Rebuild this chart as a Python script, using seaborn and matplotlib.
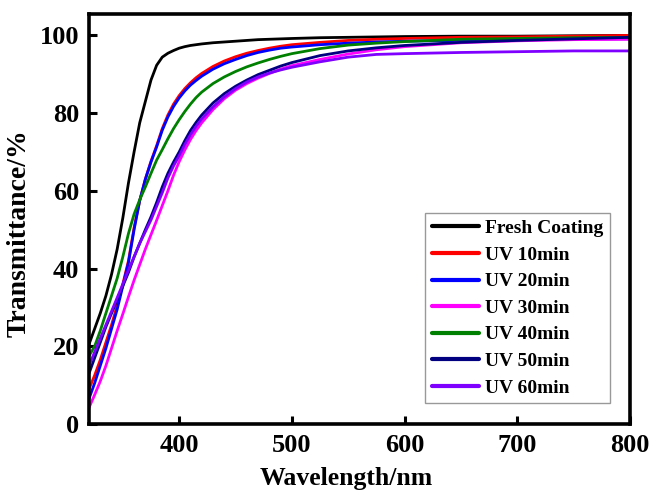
import numpy as np
import pandas as pd
import matplotlib
matplotlib.use("Agg")
import matplotlib.pyplot as plt
import seaborn as sns

wavelength = [320, 325, 330, 335, 340, 345, 350, 355, 360, 365, 370, 375, 380, 385, 390,
              395, 400, 405, 410, 415, 420, 430, 440, 450, 460, 470, 480, 490, 500,
              525, 550, 575, 600, 650, 700, 750, 800]

fresh = [20.5, 24.5, 28.5, 33, 38.5, 45, 53, 62, 70, 77.5, 83, 88.5, 92.3, 94.4, 95.4,
         96.1, 96.7, 97.1, 97.4, 97.6, 97.8, 98.1, 98.3, 98.5, 98.7, 98.9, 99.0, 99.1, 99.2,
         99.4, 99.5, 99.6, 99.7, 99.8, 99.8, 99.9, 100.0]
uv10 = [9, 12.5, 16.5, 21, 25.5, 30.5, 36, 42, 50.5, 57.5, 63, 67.6, 71.6, 76, 79.5,
        82.3, 84.5, 86.3, 87.8, 89.1, 90.2, 92, 93.4, 94.5, 95.4, 96.1, 96.7, 97.2, 97.6,
        98.2, 98.7, 99.0, 99.2, 99.5, 99.6, 99.8, 100]
uv20 = [6.5, 10.5, 15, 19.5, 24.5, 29.5, 35.5, 41.5, 50, 57.5, 63, 67.4, 71.3, 75.6, 79,
        81.7, 83.9, 85.7, 87.2, 88.4, 89.5, 91.3, 92.7, 93.8, 94.8, 95.6, 96.2, 96.7, 97.0,
        97.6, 98.0, 98.3, 98.5, 98.7, 98.9, 99.0, 99.1]
uv30 = [4.2, 7.5, 11, 15, 19.5, 24, 28.3, 32.7, 37, 41, 45, 48.7, 52.4, 56.2, 60,
        64, 67.5, 70.5, 73.2, 75.5, 77.5, 80.9, 83.7, 85.9, 87.6, 89.0, 90.2, 91.3, 92.2,
        93.8, 95.2, 96.3, 97.1, 98.1, 98.6, 98.9, 99]
uv40 = [17.5, 20, 24, 28.5, 33, 37.5, 43, 49, 54, 57.7, 61, 64.5, 67.9, 70.6, 73.4,
        76, 78.3, 80.4, 82.3, 84, 85.4, 87.6, 89.3, 90.7, 91.9, 92.9, 93.8, 94.6, 95.3,
        96.6, 97.5, 98.0, 98.4, 99.0, 99.2, 99.4, 99.5]
uv50 = [13, 17, 21, 25, 28.5, 32, 35.5, 39, 43, 46.5, 50, 53.3, 57, 61, 64.5,
        67.4, 70, 72.9, 75.5, 77.6, 79.5, 82.6, 85, 86.9, 88.5, 89.9, 91, 92.1, 93,
        94.8, 96, 96.8, 97.4, 98.2, 98.7, 99.1, 99.5]
uv60 = [15, 18.5, 22, 25.5, 29, 32.5, 36, 39.6, 43, 46.5, 49.5, 52.5, 56, 59.5, 63.3,
        66.4, 69, 71.9, 74.4, 76.6, 78.5, 81.6, 84.2, 86.3, 88, 89.3, 90.3, 91.1, 91.8,
        93.2, 94.4, 95.1, 95.3, 95.6, 95.8, 96, 96]

series_names = ["Fresh Coating", "UV 10min", "UV 20min", "UV 30min",
                "UV 40min", "UV 50min", "UV 60min"]
series_values = [fresh, uv10, uv20, uv30, uv40, uv50, uv60]
colors = ["#000000", "#FF0000", "#0000FF", "#FF00FF", "#008000", "#000080", "#7F00FF"]

x_ticks = [400, 500, 600, 700, 800]
y_ticks = [0, 20, 40, 60, 80, 100]

rows = []
for name, vals in zip(series_names, series_values):
    for w, v in zip(wavelength, vals):
        rows.append({"Wavelength": w, "T": v, "series": name})
df = pd.DataFrame(rows)

sns.set_style("ticks")
plt.rcParams["font.family"] = ["Liberation Serif", "DejaVu Serif"]
plt.rcParams["font.weight"] = "bold"
for k in ["text.color", "axes.labelcolor", "xtick.color", "ytick.color", "axes.edgecolor"]:
    plt.rcParams[k] = "black"

fig = plt.figure(figsize=(6.54, 4.92), dpi=100)
ax = fig.add_axes([89 / 654, 1 - 424 / 492, (630 - 89) / 654, (424 - 14) / 492])

sns.lineplot(data=df, x="Wavelength", y="T", hue="series", hue_order=series_names,
             palette=dict(zip(series_names, colors)), linewidth=2.0,
             estimator=None, sort=False, ax=ax)

ax.set_xlim(320, 800)
ax.set_ylim(0, 105.5)
ax.set_xticks(x_ticks)
ax.set_yticks(y_ticks)
ax.tick_params(direction="in", length=5.5, width=2.2, labelsize=19, pad=7,
               top=False, right=False, colors="black")
for lab in ax.get_xticklabels() + ax.get_yticklabels():
    lab.set_fontweight("bold")
for sp in ax.spines.values():
    sp.set_linewidth(2.6)
    sp.set_visible(True)
    sp.set_color("black")

ax.set_xlabel("Wavelength/nm", fontsize=18.5, fontweight="bold")
ax.set_ylabel("Transmittance/%", fontsize=20, fontweight="bold")
ax.xaxis.set_label_coords(0.476, -0.104)
ax.yaxis.set_label_coords(-0.106, 0.465)

handles, labels = ax.get_legend_handles_labels()
leg = ax.legend(handles, labels, loc="upper left", bbox_to_anchor=(0.621, 0.515),
                fontsize=14, frameon=True, fancybox=False, edgecolor="#808080",
                handlelength=2.45, handletextpad=0.3, labelspacing=0.46,
                borderpad=0.35, borderaxespad=0)
leg.get_frame().set_linewidth(1.0)
for line in leg.get_lines():
    line.set_linewidth(3.0)
for t in leg.get_texts():
    t.set_fontweight("bold")
    t.set_color("black")

fig.savefig("out.png", dpi=100)
